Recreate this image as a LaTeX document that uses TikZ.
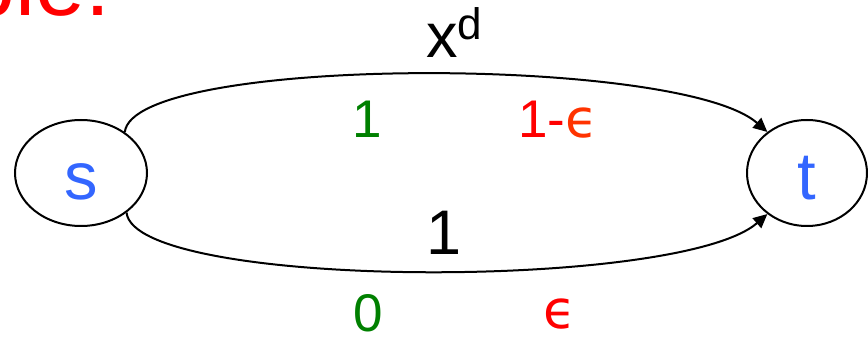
\documentclass[tikz,border=0pt]{standalone}
\usepackage{fontspec}
\setmainfont{Liberation Sans}
\newfontfamily\epsfont{DejaVu Sans}
\usetikzlibrary{arrows.meta,shapes.geometric}
\definecolor{vblue}{RGB}{51,102,255}
\definecolor{fgreen}{RGB}{0,128,0}
\definecolor{epsred}{RGB}{255,51,0}
\newcommand{\eps}{{\epsfont ϵ}}

\begin{document}
\begin{tikzpicture}[x=0.5pt,y=0.5pt,>={Triangle[length=7pt,width=6.5pt]},
  vertex/.style={draw,ellipse,line width=1pt,inner sep=0pt,minimum height=53pt,text height=27pt,text depth=0pt,text=vblue,font=\fontsize{33.5}{40}\selectfont},
  cost/.style={anchor=base,font=\fontsize{31.5}{38}\selectfont},
  flow/.style={anchor=base,font=\fontsize{26.5}{32}\selectfont}]
\useasboundingbox (0,0) rectangle (868,337);
\node[anchor=base east,text=red,font=\fontsize{45}{54}\selectfont] (title) at (118,321){ple:};
\node[vertex,minimum width=66pt] (s) at (81,164){s};
\node[vertex,minimum width=60pt] (t) at (807,164){t};
\draw[->,line width=1pt] (s.43) .. controls +(8,77) and +(-88,77) .. (t.134);
\draw[->,line width=1pt] (s.-41) .. controls +(8,-77) and +(-88,-77) .. (t.-134);
\node[cost] (captop) at (455,279){x\textsuperscript{d}};
\node[cost] (capbot) at (444,82){1};
\node[flow,text=fgreen] (oldtop) at (367,199){1};
\node[flow,text=red] (newtop) at (558,199){1-\textcolor{epsred}{\eps}};
\node[flow,text=fgreen] (oldbot) at (368,5){0};
\node[flow,text=red] (newbot) at (560,8){\eps};
\end{tikzpicture}
\end{document}
